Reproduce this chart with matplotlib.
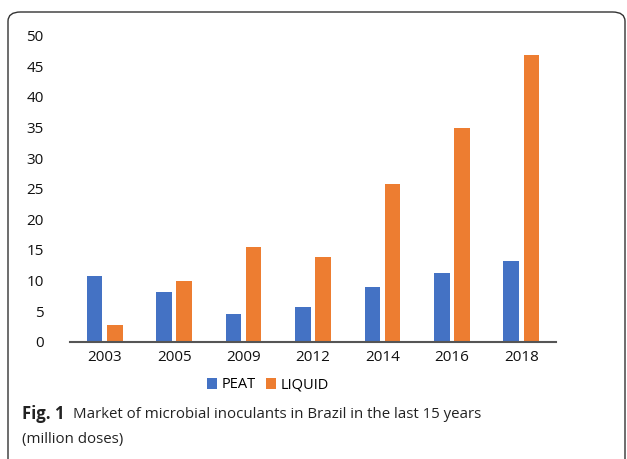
import numpy as np
import matplotlib.pyplot as plt
from matplotlib.patches import FancyBboxPatch

# data
years = ['2003', '2005', '2009', '2012', '2014', '2016', '2018']
peat = [10.8, 8.1, 4.6, 5.6, 8.9, 11.3, 13.2]
liquid = [2.7, 10.0, 15.5, 13.8, 25.8, 34.9, 46.8]

plt.rcParams['font.family'] = ['Open Sans', 'DejaVu Sans']

fig = plt.figure(figsize=(6.27, 4.59), dpi=100)
ax = fig.add_axes([70/627, 1-341.7/459, 486/627, 306/459])

x = np.arange(len(years))
w = 0.225
ax.bar(x - 0.145, peat, w, color='#4472C4', label='PEAT')
ax.bar(x + 0.145, liquid, w, color='#ED7D31', label='LIQUID')

ax.set_xlim(-0.5, len(years) - 0.5)
ax.set_ylim(0, 50)
ax.set_yticks(range(0, 51, 5))
ax.set_xticks(x)
ax.set_xticklabels(years)
ax.tick_params(axis='both', length=0, labelsize=11, colors='#111111')
ax.tick_params(axis='y', pad=19)
ax.tick_params(axis='x', pad=6)
for s in ['top', 'right', 'left']:
    ax.spines[s].set_visible(False)
ax.spines['bottom'].set_color('#555555')
ax.spines['bottom'].set_linewidth(1.5)

fig.legend(loc='center', bbox_to_anchor=(268/627, 1-385/459), ncol=2,
           frameon=False, fontsize=10.5, handlelength=0.7, handleheight=0.7,
           handletextpad=0.3, columnspacing=0.7)

# caption
fig.text(22/627, 1-414/459, 'Fig. 1', fontsize=12, fontweight='bold', va='center', color='#222222')
fig.text(73/627, 1-414/459, 'Market of microbial inoculants in Brazil in the last 15 years',
         fontsize=10.8, va='center', color='#222222')
fig.text(22/627, 1-440/459, '(million doses)', fontsize=10.8,
         va='center', color='#222222')

# rounded frame around the figure
frame = FancyBboxPatch((8/627, -0.1), 617/627, 1.1 - 12/459,
                       boxstyle='round,pad=0,rounding_size=0.02',
                       transform=fig.transFigure, fill=False,
                       edgecolor='#333333', linewidth=1.0)
fig.patches.append(frame)

fig.savefig('out.png', dpi=100)
